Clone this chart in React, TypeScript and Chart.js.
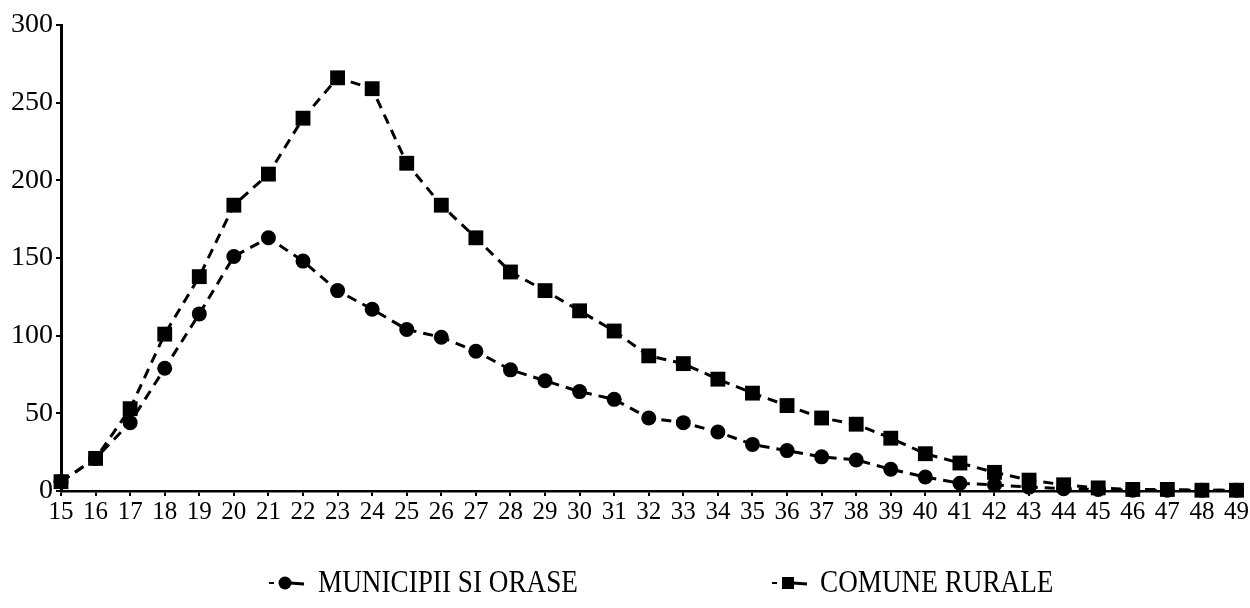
import React, { useEffect, useRef } from "react";
import { Chart, registerables } from "chart.js";

Chart.register(...registerables);

const ages = [
  "15", "16", "17", "18", "19", "20", "21", "22", "23", "24", "25", "26",
  "27", "28", "29", "30", "31", "32", "33", "34", "35", "36", "37", "38",
  "39", "40", "41", "42", "43", "44", "45", "46", "47", "48", "49",
];

const municipiiSiOrase = [
  6, 21, 44, 79, 114, 151, 163, 148, 129, 117, 104, 99,
  90, 78, 71, 64, 59, 47, 44, 38, 30, 26, 22, 20,
  14, 9, 5, 4, 2.5, 1.5, 1, 0.5, 0.5, 0.5, 0.5,
];

const comuneRurale = [
  6, 21, 53, 101, 138, 184, 204, 240, 266, 259, 211, 184,
  163, 141, 129, 116, 103, 87, 82, 72, 63, 55, 47, 43,
  34, 24, 18, 12, 7, 4, 2, 1, 1, 0.5, 0.5,
];

const seriesLabels = ["MUNICIPII SI ORASE", "COMUNE RURALE"];
const yMin = 0;
const yMax = 300;
const yStep = 50;

const SERIF = "'Liberation Serif', 'Times New Roman', serif";

const scanLegend = {
  id: "scanLegend",
  afterDraw(chart: any) {
    const ctx = chart.ctx;
    const y = 583;
    const slots = [
      { mx: 285, tx: 318 },
      { mx: 788, tx: 820 },
    ];
    chart.data.datasets.forEach((ds: any, i: number) => {
      const s = slots[i];
      if (!s) return;
      ctx.save();
      ctx.fillStyle = "#000";
      ctx.strokeStyle = "#000";
      // small dash
      ctx.lineWidth = 2;
      ctx.beginPath();
      ctx.moveTo(s.mx - 16, y);
      ctx.lineTo(s.mx - 11, y);
      ctx.stroke();
      // marker
      if (ds.pointStyle === "rect") {
        ctx.fillRect(s.mx - 6, y - 6, 12, 12);
      } else {
        ctx.beginPath();
        ctx.arc(s.mx, y, 6.5, 0, Math.PI * 2);
        ctx.fill();
      }
      // tail line
      ctx.lineWidth = 3;
      ctx.beginPath();
      ctx.moveTo(s.mx + 5, y);
      ctx.lineTo(s.mx + 19, y + 1);
      ctx.stroke();
      // text (slightly condensed, like the printed original)
      ctx.translate(s.tx, y);
      ctx.scale(0.85, 1);
      ctx.font = `32px ${SERIF}`;
      ctx.textAlign = "left";
      ctx.textBaseline = "middle";
      ctx.fillText(ds.label, 0, 1);
      ctx.restore();
    });
  },
};

export default function App() {
  const canvasRef = useRef<HTMLCanvasElement | null>(null);

  useEffect(() => {
    if (!canvasRef.current) return;
    const chart = new Chart(canvasRef.current, {
      type: "line",
      data: {
        labels: ages,
        datasets: [
          {
            label: seriesLabels[0],
            data: municipiiSiOrase,
            borderColor: "#000",
            backgroundColor: "#000",
            borderWidth: 3,
            borderDash: [10, 7],
            pointStyle: "circle",
            pointRadius: 7.5,
            pointBackgroundColor: "#000",
            pointBorderColor: "#000",
            pointBorderWidth: 0,
            tension: 0,
            clip: false as any,
          },
          {
            label: seriesLabels[1],
            data: comuneRurale,
            borderColor: "#000",
            backgroundColor: "#000",
            borderWidth: 3,
            borderDash: [10, 7],
            pointStyle: "rect",
            pointRadius: 10.5,
            pointBackgroundColor: "#000",
            pointBorderColor: "#000",
            pointBorderWidth: 0,
            tension: 0,
            clip: false as any,
          },
        ],
      },
      options: {
        animation: false,
        responsive: true,
        maintainAspectRatio: false,
        layout: { padding: { left: 0, top: 25, right: 13, bottom: 77 } },
        plugins: {
          legend: { display: false },
          tooltip: { enabled: false },
        },
        scales: {
          x: {
            type: "category",
            offset: false,
            afterFit: (scale: any) => {
              scale.height = 40;
            },
            border: { display: true, color: "#000", width: 2.5 },
            grid: {
              display: true,
              drawOnChartArea: false,
              drawTicks: true,
              tickLength: 5,
              color: "#000",
              lineWidth: 2,
            },
            ticks: {
              color: "#000",
              autoSkip: false,
              maxRotation: 0,
              minRotation: 0,
              padding: 1,
              font: { family: SERIF, size: 25 },
            },
          },
          y: {
            min: yMin,
            max: yMax,
            afterFit: (scale: any) => {
              scale.width = 61;
            },
            border: { display: true, color: "#000", width: 3 },
            grid: {
              display: true,
              drawOnChartArea: false,
              drawTicks: true,
              tickLength: 5,
              color: "#000",
              lineWidth: 2,
            },
            ticks: {
              stepSize: yStep,
              color: "#000",
              padding: 3,
              font: { family: SERIF, size: 28 },
            },
          },
        },
      },
      plugins: [scanLegend],
    });
    return () => chart.destroy();
  }, []);

  return (
    <div
      style={{
        position: "fixed",
        left: 0,
        top: 0,
        width: 1250,
        height: 608,
        background: "#fff",
      }}
    >
      <canvas ref={canvasRef} />
    </div>
  );
}
